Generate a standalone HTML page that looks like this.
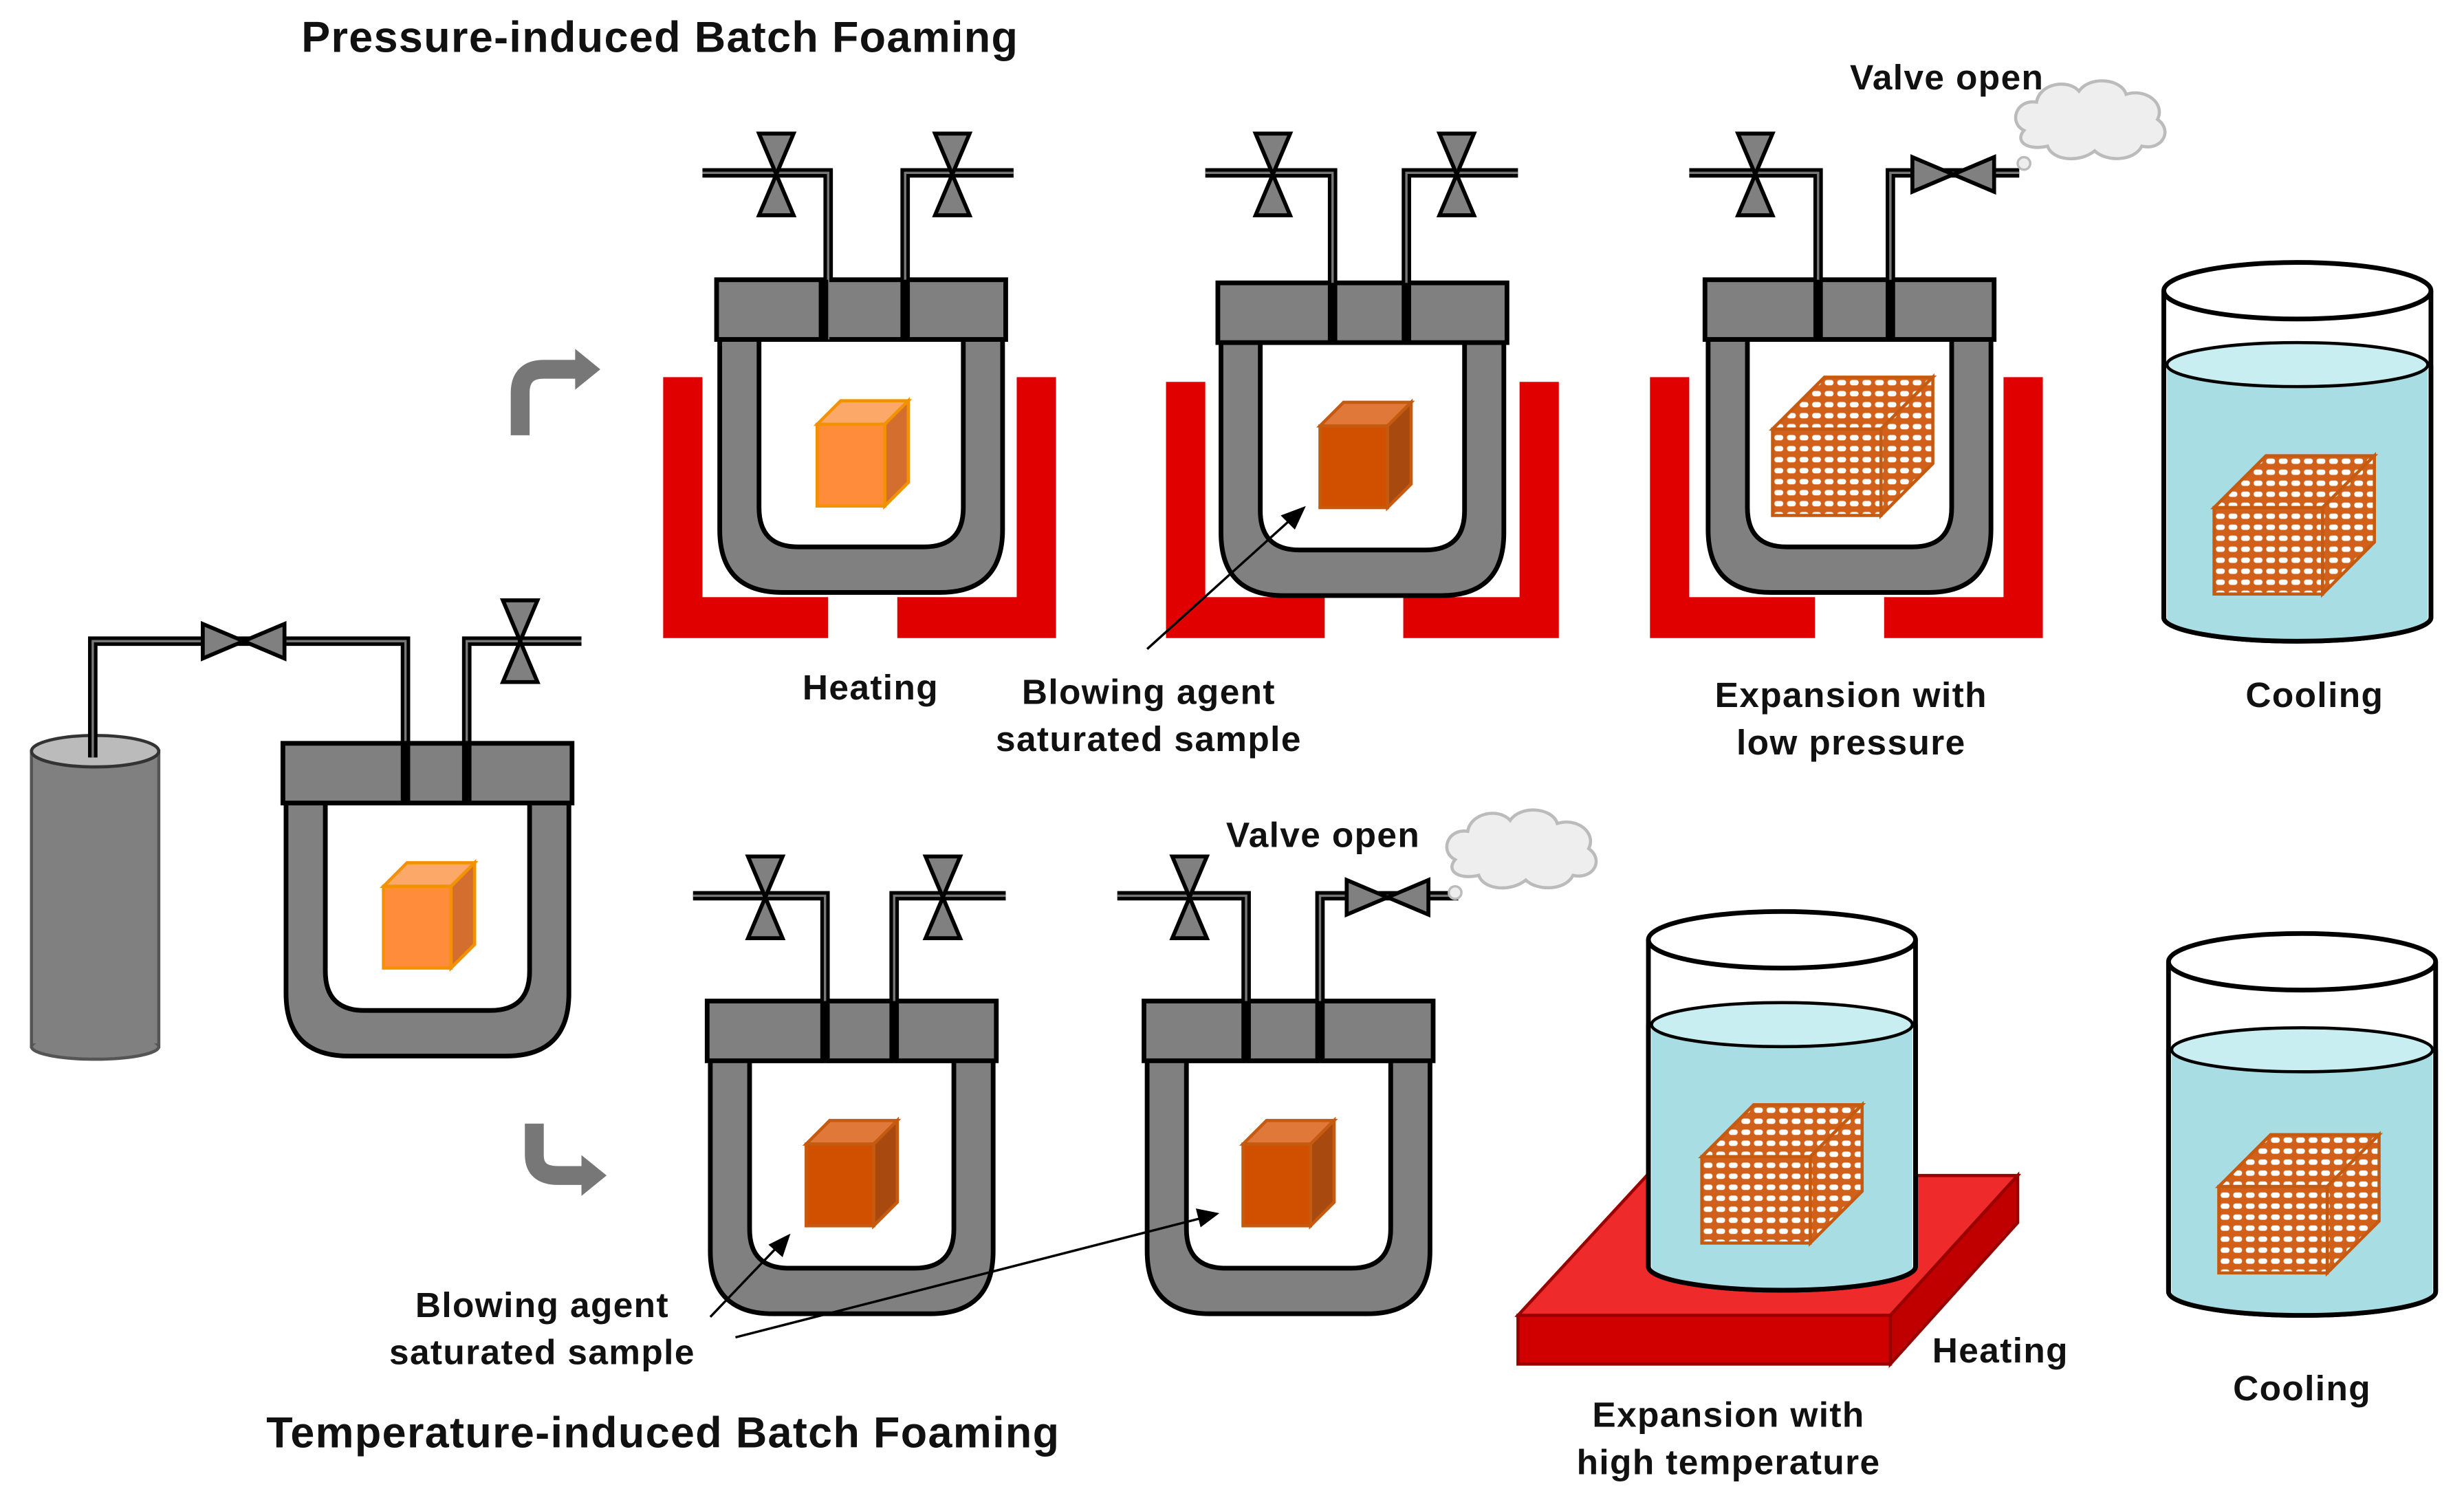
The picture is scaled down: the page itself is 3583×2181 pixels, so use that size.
<!DOCTYPE html>
<html><head><meta charset="utf-8"><style>
html,body{margin:0;padding:0;background:#fff}
svg{display:block}
text{font-family:"Liberation Sans",sans-serif;font-weight:bold;fill:#111}
</style></head><body>
<svg width="3583" height="2181" viewBox="0 0 1568 954.5" xmlns="http://www.w3.org/2000/svg">
<defs>
<pattern id="foam" width="8" height="7" patternUnits="userSpaceOnUse">
<rect width="8" height="7" fill="#D0601A"/>
<rect x="1.2" y="1.8" width="5.6" height="3.4" rx="1.6" fill="#fff"/>
</pattern>
<g id="vessel">
<path d="M2,30 L2,159 Q2,199 42,199 L142,199 Q182,199 182,159 L182,30 Z" fill="#808080" stroke="#000" stroke-width="3"/>
<path d="M27,38 L27,145 Q27,170 52,170 L132,170 Q157,170 157,145 L157,38 Z" fill="#fff" stroke="#000" stroke-width="3"/>
<rect x="0" y="0" width="184" height="38" fill="#808080" stroke="#000" stroke-width="3"/>
</g>
<g id="vvalve"><path d="M-11,-26 L11,-26 L0,0 Z M-11,26 L11,26 L0,0 Z" fill="#808080" stroke="#000" stroke-width="2.5"/></g>
<g id="hvalve"><path d="M-26,-11 L-26,11 L0,0 Z M26,-11 L26,11 L0,0 Z" fill="#808080" stroke="#000" stroke-width="2.5"/></g>
<g id="cubeL"><path d="M0,15 L15,0 L58,0 L43,15 Z" fill="#FBA868" stroke="#F39200" stroke-width="2"/><path d="M43,15 L58,0 L58,52 L43,67 Z" fill="#D46E2E" stroke="#F39200" stroke-width="2"/><rect x="0" y="15" width="43" height="52" fill="#FF8C3A" stroke="#F39200" stroke-width="2"/></g>
<g id="cubeD"><path d="M0,15 L15,0 L58,0 L43,15 Z" fill="#E0783A" stroke="#C55A11" stroke-width="2"/><path d="M43,15 L58,0 L58,52 L43,67 Z" fill="#A84A10" stroke="#C55A11" stroke-width="2"/><rect x="0" y="15" width="43" height="52" fill="#D05000" stroke="#C55A11" stroke-width="2"/></g>
<g id="foamcube"><path d="M0,33 L33,0 L102,0 L69,33 Z" fill="url(#foam)" stroke="#C55A11" stroke-width="2"/><path d="M69,33 L102,0 L102,55 L69,88 Z" fill="url(#foam)" stroke="#C55A11" stroke-width="2"/><rect x="0" y="33" width="69" height="55" fill="url(#foam)" stroke="#C55A11" stroke-width="2"/></g>
<g id="cloud"><path d="M10,35 C0,30 5,15 18,17 C20,5 38,2 45,10 C52,0 72,2 75,12 C88,8 100,18 95,28 C105,35 98,48 85,45 C80,55 62,55 55,48 C45,56 28,54 25,45 C12,48 4,42 10,35 Z" fill="#eee" stroke="#bbb" stroke-width="2"/><circle cx="10" cy="56" r="4" fill="#eee" stroke="#bbb" stroke-width="1.5"/></g>
</defs>

<text x="420" y="33" font-size="27.5" letter-spacing="0.6" text-anchor="middle">Pressure-induced Batch Foaming</text>
<text x="422" y="921" font-size="27.5" letter-spacing="0.6" text-anchor="middle">Temperature-induced Batch Foaming</text>

<!-- gas cylinder -->
<rect x="20" y="478" width="81" height="188" fill="#808080" stroke="#555" stroke-width="2"/>
<ellipse cx="60.5" cy="666" rx="40.5" ry="8" fill="#808080" stroke="#555" stroke-width="2"/>
<rect x="21" y="480" width="79" height="184" fill="#808080"/>
<ellipse cx="60.5" cy="478" rx="40.5" ry="10" fill="#bbb" stroke="#333" stroke-width="2"/>
<path d="M59,482 L59,408 L258,408 L258,512 M297,512 L297,408 L370,408" fill="none" stroke="#000" stroke-width="6"/>
<path d="M59,482 L59,408 L258,408 L258,512 M297,512 L297,408 L370,408" fill="none" stroke="#777" stroke-width="1.5"/>
<use href="#hvalve" x="155" y="408"/>
<use href="#vvalve" x="331" y="408"/>
<use href="#vessel" x="180" y="473"/>
<use href="#cubeL" x="244" y="549"/>

<!-- curved arrows -->
<path d="M331,277 L331,250 Q331,235 346,235 L368,235" fill="none" stroke="#777" stroke-width="12"/>
<path d="M366,222 L382,235 L366,248 Z" fill="#777"/>
<path d="M340,715 L340,735 Q340,748 355,748 L372,748" fill="none" stroke="#777" stroke-width="12"/>
<path d="M370,735 L386,748 L370,761 Z" fill="#777"/>

<!-- heaters -->
<g fill="#E00000">
<path d="M422,240 h25 v140 h80 v26 h-105 Z"/><path d="M672,240 h-25 v140 h-76 v26 h101 Z"/>
<path d="M742,243 h25 v137 h76 v26 h-101 Z"/><path d="M992,243 h-25 v137 h-74 v26 h99 Z"/>
<path d="M1050,240 h25 v140 h80 v26 h-105 Z"/><path d="M1300,240 h-25 v140 h-76 v26 h101 Z"/>
</g>
<g fill="none" stroke="#000" stroke-width="6">
<path d="M527,216 L527,110 L447,110 M576,216 L576,110 L645,110"/>
<path d="M848,218 L848,110 L767,110 M895,218 L895,110 L966,110"/>
<path d="M1157,216 L1157,110 L1075,110 M1203,216 L1203,110 L1285,110"/>
<path d="M525,676 L525,570 L441,570 M569,676 L569,570 L640,570"/>
<path d="M793,676 L793,570 L711,570 M840,676 L840,570 L928,570"/>
</g>
<use href="#vessel" x="456" y="178"/>
<use href="#vessel" x="775" y="180"/>
<use href="#vessel" x="1085" y="178"/>
<use href="#vessel" x="450" y="637"/>
<use href="#vessel" x="728" y="637"/>
<g fill="none" stroke="#777" stroke-width="1.5">
<path d="M527,216 L527,110 L447,110 M576,216 L576,110 L645,110"/>
<path d="M848,218 L848,110 L767,110 M895,218 L895,110 L966,110"/>
<path d="M1157,216 L1157,110 L1075,110 M1203,216 L1203,110 L1285,110"/>
<path d="M525,676 L525,570 L441,570 M569,676 L569,570 L640,570"/>
<path d="M793,676 L793,570 L711,570 M840,676 L840,570 L928,570"/>
</g>
<g stroke="#000" stroke-width="6"><line x1="524" y1="178" x2="524" y2="216"/><line x1="576" y1="178" x2="576" y2="216"/><line x1="848" y1="180" x2="848" y2="218"/><line x1="895" y1="180" x2="895" y2="218"/><line x1="1157" y1="178" x2="1157" y2="216"/><line x1="1203" y1="178" x2="1203" y2="216"/><line x1="525" y1="637" x2="525" y2="676"/><line x1="569" y1="637" x2="569" y2="676"/><line x1="793" y1="637" x2="793" y2="676"/><line x1="840" y1="637" x2="840" y2="676"/><line x1="258" y1="473" x2="258" y2="512"/><line x1="297" y1="473" x2="297" y2="512"/></g>
<use href="#vvalve" x="494" y="111"/><use href="#vvalve" x="606" y="111"/>
<use href="#vvalve" x="810" y="111"/><use href="#vvalve" x="927" y="111"/>
<use href="#vvalve" x="1117" y="111"/><use href="#hvalve" x="1243" y="111"/>
<use href="#vvalve" x="487" y="571"/><use href="#vvalve" x="600" y="571"/>
<use href="#vvalve" x="757" y="571"/><use href="#hvalve" x="883" y="571"/>

<use href="#cubeL" x="520" y="255"/>
<use href="#cubeD" x="840" y="256"/>
<use href="#cubeD" x="513" y="713"/>
<use href="#cubeD" x="791" y="713"/>
<use href="#foamcube" x="1128" y="240"/>

<use href="#cloud" x="1278" y="48"/>
<use href="#cloud" x="916" y="512"/>

<!-- beakers -->
<g>
<path d="M1377,185 L1377,393 A85,15 0 0 0 1547,393 L1547,185" fill="#fff" stroke="#000" stroke-width="3"/>
<path d="M1379,232 L1379,393 A83,14 0 0 0 1545,393 L1545,232 Z" fill="#A8DDE3"/>
<ellipse cx="1462" cy="232" rx="83" ry="14" fill="#C8EEF2" stroke="#000" stroke-width="2"/>
<path d="M1377,232 L1377,393 A85,15 0 0 0 1547,393 L1547,232" fill="none" stroke="#000" stroke-width="3"/>
<ellipse cx="1462" cy="185" rx="85" ry="18" fill="none" stroke="#000" stroke-width="3"/>
<use href="#foamcube" x="1409" y="290"/>
</g>
<g>
<path d="M1380,612 L1380,822 A85,15 0 0 0 1550,822 L1550,612" fill="#fff" stroke="#000" stroke-width="3"/>
<path d="M1382,668 L1382,822 A83,14 0 0 0 1548,822 L1548,668 Z" fill="#A8DDE3"/>
<ellipse cx="1465" cy="668" rx="83" ry="14" fill="#C8EEF2" stroke="#000" stroke-width="2"/>
<path d="M1380,668 L1380,822 A85,15 0 0 0 1550,822 L1550,668" fill="none" stroke="#000" stroke-width="3"/>
<ellipse cx="1465" cy="612" rx="85" ry="18" fill="none" stroke="#000" stroke-width="3"/>
<use href="#foamcube" x="1412" y="722"/>
</g>
<!-- hot plate -->
<path d="M966,837 L1048,748 L1284,748 L1203,837 Z" fill="#EE2A2A" stroke="#900" stroke-width="2"/>
<path d="M1203,837 L1284,748 L1284,778 L1203,868 Z" fill="#C00000" stroke="#900" stroke-width="2"/>
<rect x="966" y="837" width="237" height="31" fill="#D00000" stroke="#900" stroke-width="2"/>
<g>
<path d="M1049,598 L1049,806 A85,15 0 0 0 1219,806 L1219,598" fill="#fff" stroke="#000" stroke-width="3"/>
<path d="M1051,652 L1051,806 A83,14 0 0 0 1217,806 L1217,652 Z" fill="#A8DDE3"/>
<ellipse cx="1134" cy="652" rx="83" ry="14" fill="#C8EEF2" stroke="#000" stroke-width="2"/>
<path d="M1049,652 L1049,806 A85,15 0 0 0 1219,806 L1219,652" fill="none" stroke="#000" stroke-width="3"/>
<ellipse cx="1134" cy="598" rx="85" ry="18" fill="none" stroke="#000" stroke-width="3"/>
<use href="#foamcube" x="1083" y="703"/>
</g>

<!-- callout arrows -->
<g stroke="#000" stroke-width="1.5">
<line x1="730" y1="413" x2="822" y2="330"/>
<line x1="452" y1="838" x2="496" y2="792"/>
<line x1="468" y1="851" x2="765" y2="775"/>
</g>
<path d="M831,322 L815,328 L824,337 Z M503,785 L489,792 L498,800 Z M776,772 L761,769 L764,781 Z" fill="#000"/>

<!-- labels -->
<g font-size="22.5" letter-spacing="0.6">
<text x="554" y="445" text-anchor="middle">Heating</text>
<text x="731" y="448" text-anchor="middle">Blowing agent</text>
<text x="731" y="478" text-anchor="middle">saturated sample</text>
<text x="1178" y="450" text-anchor="middle">Expansion with</text>
<text x="1178" y="480" text-anchor="middle">low pressure</text>
<text x="1473" y="450" text-anchor="middle">Cooling</text>
<text x="1239" y="57" text-anchor="middle">Valve  open</text>
<text x="842" y="539" text-anchor="middle">Valve  open</text>
<text x="345" y="838" text-anchor="middle">Blowing agent</text>
<text x="345" y="868" text-anchor="middle">saturated sample</text>
<text x="1273" y="867" text-anchor="middle">Heating</text>
<text x="1465" y="891" text-anchor="middle">Cooling</text>
<text x="1100" y="908" text-anchor="middle">Expansion with</text>
<text x="1100" y="938" text-anchor="middle">high temperature</text>
</g>
</svg>
</body></html>
